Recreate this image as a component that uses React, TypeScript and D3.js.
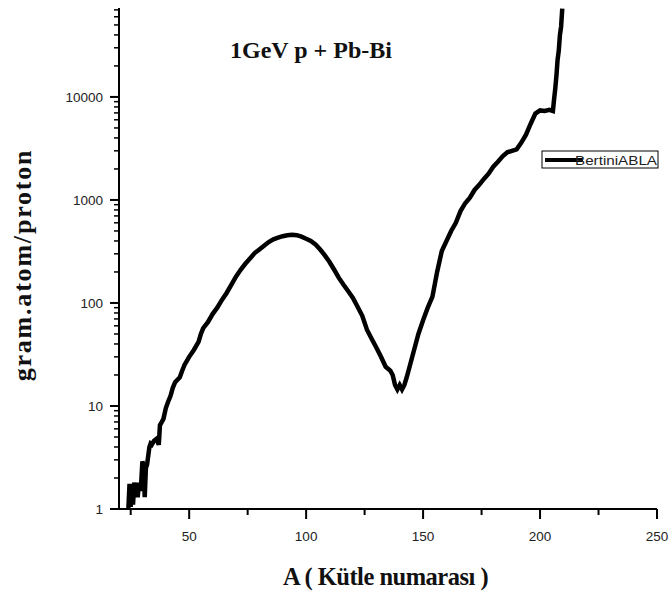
import React from "react";
import * as d3 from "d3";

const massNumbers = [24, 24.5, 25, 25.5, 26, 26.5, 27, 27.5, 28, 28.5, 29, 29.5, 30, 30.5, 31, 31.5, 32, 33, 33.5, 34, 35, 36, 37, 37.5, 38, 39, 40, 41, 42, 43, 44, 45, 46, 47, 48, 50, 52, 54, 55, 56, 58, 60, 62, 64, 66, 68, 70, 72, 74, 76, 78, 80, 82, 84, 86, 88, 90, 92, 94, 96, 98, 100, 102, 104, 106, 108, 110, 112, 114, 116, 118, 120, 122, 124, 126, 128, 130, 132, 134, 136, 137, 138, 139, 140, 141, 142, 143, 144, 146, 148, 150, 152, 154, 156, 158, 160, 162, 164, 166, 168, 170, 172, 174, 176, 178, 180, 182, 184, 186, 188, 190, 192, 194, 196, 198, 200, 202, 204, 205.5, 206, 206.5, 207, 207.5, 208, 208.5, 209, 209.5];
const yields = [1.0, 1.75, 1.05, 1.7, 1.1, 1.8, 1.6, 1.75, 1.3, 1.8, 1.5, 1.8, 2.9, 2.6, 1.3, 2.5, 2.7, 4.0, 4.3, 4.2, 4.6, 4.8, 4.2, 6.5, 6.8, 7.5, 9.5, 11, 12.5, 15, 17, 18, 19, 22, 25, 30, 35, 42, 50, 57, 65, 78, 90, 107, 125, 150, 180, 210, 240, 270, 305, 330, 360, 390, 415, 430, 445, 455, 460, 455, 440, 420, 400, 370, 330, 290, 250, 210, 175, 150, 130, 112, 92, 75, 55, 45, 37, 30, 24, 22, 20, 16, 14.5, 16, 14.5, 16, 19, 23, 34, 50, 68, 90, 115, 200, 320, 400, 500, 600, 780, 930, 1050, 1250, 1400, 1600, 1800, 2100, 2350, 2650, 2900, 3000, 3100, 3600, 4300, 5500, 6900, 7400, 7300, 7500, 7300, 9500, 12000, 16000, 23000, 28000, 40000, 48000, 72000];

const xMajorTicks = [50, 100, 150, 200, 250];
const xMinorTicks = [25, 75, 125, 175, 225];
const yMajorTicks = [1, 10, 100, 1000, 10000];
const yTickLabels = ["1", "10", "100", "1000", "10000"];

const titleText = "1GeV p + Pb-Bi";
const xLabel = "A ( Kütle numarası )";
const yLabel = "gram.atom/proton";
const legendLabel = "BertiniABLA";

export default function App() {
  const x = d3.scaleLinear().domain([20, 250]).range([119, 657]);
  const y = d3.scaleLog().domain([1, 73000]).range([509, 8]).clamp(true);

  const data = massNumbers.map((a, i) => ({ a, v: yields[i] }));
  const line = d3
    .line<{ a: number; v: number }>()
    .x((d) => x(d.a))
    .y((d) => y(d.v));

  const yMinor: number[] = [];
  for (let e = 0; e <= 4; e++) {
    for (let m = 2; m <= 9; m++) {
      const v = m * Math.pow(10, e);
      if (v <= 73000) yMinor.push(v);
    }
  }

  const tickFont = "Arial, 'Liberation Sans', sans-serif";
  const serif = "'Times New Roman', 'Liberation Serif', serif";

  return (
    <svg
      width={670}
      height={597}
      style={{ position: "absolute", left: 0, top: 0, background: "#fff" }}
    >
      <rect x={0} y={0} width={670} height={597} fill="#fff" />
      {/* axes */}
      <line x1={x(20)} x2={x(250)} y1={509} y2={509} stroke="#000" strokeWidth={2} />
      <line x1={119} x2={119} y1={y(73000)} y2={510} stroke="#000" strokeWidth={2} />
      {xMajorTicks.map((t) => (
        <g key={"xm" + t}>
          <line x1={x(t)} x2={x(t)} y1={509} y2={519} stroke="#000" strokeWidth={2} />
          <text x={x(t)} y={541} textAnchor="middle" fontFamily={tickFont} fontSize={13.5} fill="#222">
            {t}
          </text>
        </g>
      ))}
      {xMinorTicks.map((t) => (
        <line key={"xn" + t} x1={x(t)} x2={x(t)} y1={509} y2={515} stroke="#000" strokeWidth={2} />
      ))}
      {yMajorTicks.map((t, i) => (
        <g key={"ym" + t}>
          <line x1={110} x2={119} y1={y(t)} y2={y(t)} stroke="#000" strokeWidth={2} />
          <text x={103} y={y(t) + 5} textAnchor="end" fontFamily={tickFont} fontSize={13.5} fill="#222">
            {yTickLabels[i]}
          </text>
        </g>
      ))}
      {yMinor.map((t) => (
        <line key={"yn" + t} x1={114} x2={119} y1={y(t)} y2={y(t)} stroke="#000" strokeWidth={1.5} />
      ))}

      {/* data */}
      <path
        d={line(data) || ""}
        fill="none"
        stroke="#000"
        strokeWidth={4.5}
        strokeLinejoin="miter"
        strokeLinecap="butt"
      />

      {/* title */}
      <text x={230} y={58} fontFamily={serif} fontWeight="bold" fontSize={24} letterSpacing={0} fill="#111">
        {titleText}
      </text>

      {/* axis labels */}
      <text x={283} y={585} fontFamily={serif} fontWeight="bold" fontSize={24.5} letterSpacing={-0.5} fill="#111">
        {xLabel}
      </text>
      <text
        transform="translate(31,265) rotate(-90)"
        textAnchor="middle"
        fontFamily={serif}
        fontWeight="bold"
        fontSize={26}
        letterSpacing={1.8}
        fill="#111"
      >
        {yLabel}
      </text>

      {/* legend */}
      <rect x={542} y={151} width={116} height={17} fill="#fff" stroke="#000" strokeWidth={1} />
      <line x1={545} x2={583} y1={160} y2={160} stroke="#000" strokeWidth={4} />
      <text x={575} y={164.5} fontFamily={tickFont} fontSize={12} textLength={82} lengthAdjust="spacingAndGlyphs" fill="#222">
        {legendLabel}
      </text>
    </svg>
  );
}
